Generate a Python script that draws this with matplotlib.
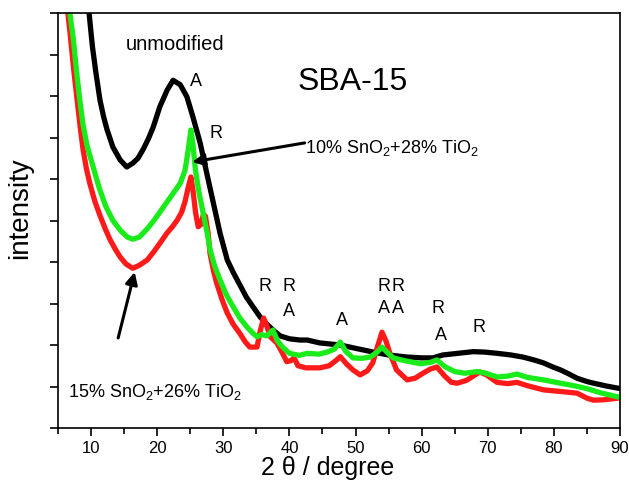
import matplotlib
matplotlib.use('Agg')
import matplotlib.pyplot as plt

plt.rcParams['font.family'] = ['Liberation Sans', 'DejaVu Sans']
plt.rcParams['mathtext.fontset'] = 'custom'
plt.rcParams['mathtext.rm'] = 'Liberation Sans'
plt.rcParams['mathtext.it'] = 'Liberation Sans:italic'

# unmodified SBA-15 (black)
x_black = [9.7, 10.2, 10.7, 11.35, 11.9, 12.4, 13.3, 14.4, 15.4, 16.3, 17.1, 17.9,
           18.7, 19.4, 20.4, 21.5, 22.4, 23.5, 24.5, 25.4, 26.5, 27.5, 28.5, 29.5,
           30.6, 31.5, 32.5, 33.5, 34.5, 35.6, 36.6, 37.6, 38.6, 40.0, 41.6, 42.7,
           44.6, 47.7, 50.0, 52.7, 55.0, 57.8, 60.0, 61.7, 63.2, 65.5, 67.8, 69.5,
           71.4, 73.5, 75.3, 77.0, 78.4, 80.0, 81.0, 82.3, 83.5, 85.0, 86.0, 88.0, 89.7]
y_black = [10.0, 9.2, 8.6, 7.9, 7.5, 7.2, 6.77, 6.46, 6.29, 6.38, 6.5, 6.72,
           6.98, 7.25, 7.74, 8.14, 8.38, 8.27, 7.98, 7.5, 6.87, 6.14, 5.42, 4.7,
           4.05, 3.75, 3.45, 3.15, 2.92, 2.67, 2.5, 2.35, 2.22, 2.15, 2.12, 2.12,
           2.05, 2.0, 1.92, 1.83, 1.76, 1.71, 1.69, 1.69, 1.76, 1.8, 1.84, 1.83,
           1.8, 1.76, 1.71, 1.64, 1.57, 1.46, 1.4, 1.3, 1.2, 1.12, 1.08, 1.01, 0.96]

# 10% SnO2 + 28% TiO2 (green)
x_green = [6.8, 7.3, 7.8, 8.3, 8.8, 9.4, 10.3, 11.2, 12.2, 13.3, 14.5, 15.5, 16.3,
           17.3, 18.5, 19.5, 20.4, 21.5, 22.4, 23.5, 24.2, 24.7, 25.1, 25.4, 25.8,
           26.3, 26.8, 27.5, 28.0, 28.7, 29.5, 30.5, 31.5, 32.5, 33.6, 34.5, 35.1,
           35.8, 36.6, 37.5, 38.2, 38.9, 40.0, 41.5, 42.7, 44.5, 45.7, 46.8, 47.7,
           48.5, 49.6, 51.0, 52.2, 53.2, 54.0, 54.8, 55.7, 57.5, 59.8, 61.3, 62.3,
           63.5, 65.0, 66.5, 68.4, 69.5, 71.4, 73.0, 74.4, 76.0, 78.4, 81.0, 83.0,
           85.0, 87.0, 89.7]
y_green = [10.0, 9.4, 8.6, 7.9, 7.3, 6.8, 6.3, 5.8, 5.35, 5.0, 4.75, 4.6, 4.55,
           4.6, 4.8, 5.0, 5.2, 5.45, 5.65, 5.9, 6.2, 6.7, 7.18, 6.85, 6.2,
           5.7, 5.3, 4.75, 4.3, 3.9, 3.57, 3.2, 2.92, 2.65, 2.43, 2.28, 2.2,
           2.25, 2.22, 2.36, 2.1, 1.96, 1.8, 1.75, 1.8, 1.78, 1.83, 1.9, 2.07,
           1.85, 1.69, 1.68, 1.71, 1.82, 1.95, 1.82, 1.69, 1.62, 1.55, 1.58, 1.64,
           1.48, 1.36, 1.32, 1.36, 1.33, 1.23, 1.25, 1.3, 1.22, 1.16, 1.08, 1.02,
           0.95, 0.85, 0.75]

# 15% SnO2 + 26% TiO2 (red)
x_red = [6.5, 6.9, 7.4, 7.9, 8.4, 8.8, 9.3, 9.8, 10.6, 11.4, 12.2, 12.9, 13.7,
         14.4, 15.3, 16.3, 17.3, 18.5, 19.5, 20.4, 21.5, 22.3, 23.0, 23.7, 24.2,
         24.7, 25.1, 25.4, 25.8, 26.2, 26.6, 27.0, 27.3, 27.7, 28.0, 28.5, 29.0,
         29.8, 30.6, 31.5, 32.5, 33.3, 34.0, 35.1, 35.6, 36.1, 36.6, 37.1, 38.1,
         38.8, 39.6, 40.2, 40.7, 41.3, 42.5, 44.6, 46.0, 47.0, 47.7, 48.6, 49.6,
         50.7, 51.8, 52.6, 53.3, 54.0, 54.6, 55.2, 56.2, 57.8, 59.0, 60.2, 61.3,
         62.3, 63.5, 64.5, 65.4, 66.8, 68.8, 69.8, 71.4, 73.0, 74.4, 76.0, 78.4,
         81.0, 83.5, 85.0, 86.0, 87.5, 89.7]
y_red = [10.0, 9.4, 8.6, 7.9, 7.2, 6.7, 6.25, 5.9, 5.45, 5.1, 4.78, 4.53, 4.3,
         4.12, 3.95, 3.85, 3.92, 4.05, 4.25, 4.45, 4.7, 4.85, 5.0, 5.2, 5.45,
         5.8, 6.05, 5.75, 5.2, 4.85, 4.9, 5.15, 5.1, 4.7, 4.2, 3.8, 3.49,
         3.1, 2.77, 2.5, 2.28, 2.08, 1.95, 1.95, 2.35, 2.65, 2.45, 2.2, 2.05,
         1.85, 1.6, 1.62, 1.69, 1.5, 1.45, 1.45, 1.5, 1.62, 1.72, 1.55, 1.4,
         1.28, 1.38, 1.57, 1.95, 2.31, 2.1, 1.8, 1.4, 1.16, 1.2, 1.32, 1.42,
         1.47, 1.25, 1.1, 1.08, 1.15, 1.35, 1.28, 1.1, 1.07, 1.1, 1.02, 0.92,
         0.88, 0.84, 0.72, 0.67, 0.68, 0.72]

# phase labels: (text, x, y)
peak_labels = [('A', 25.9, 8.34), ('R', 28.9, 7.1),
               ('R', 36.3, 3.40), ('R', 39.9, 3.40), ('A', 39.9, 2.80),
               ('A', 48.0, 2.60),
               ('R', 54.3, 3.40), ('R', 56.4, 3.40), ('A', 54.3, 2.89), ('A', 56.4, 2.89),
               ('R', 62.5, 2.89), ('A', 62.9, 2.24), ('R', 68.7, 2.41)]

fig = plt.figure(figsize=(6.29, 4.80), dpi=100)
ax = fig.add_axes([0.0922, 0.1083, 0.8935, 0.8646])

ax.plot(x_black, y_black, color='black', lw=3.8, solid_joinstyle='round')
ax.plot(x_red, y_red, color='#ff1a1a', lw=3.8, solid_joinstyle='round')
ax.plot(x_green, y_green, color='#1aeb1a', lw=3.8, solid_joinstyle='round')

ax.set_xlim(5, 90)
ax.set_ylim(0, 10)
ax.set_xticks(range(10, 91, 10))
ax.set_xticks(range(5, 90, 10), minor=True)
ax.set_yticks(range(0, 11))
ax.set_yticklabels([])
ax.tick_params(axis='both', which='major', direction='out', length=6, width=1.2,
               labelsize=12, top=False, right=False)
ax.tick_params(axis='x', which='minor', direction='out', length=4, width=1.2)
for s in ax.spines.values():
    s.set_linewidth(1.2)

ax.set_xlabel('2 \u03b8 / degree', fontsize=18)
ax.xaxis.set_label_coords(0.48, -0.068)
ax.set_ylabel('intensity', fontsize=20)
ax.yaxis.set_label_coords(-0.045, 0.53)

ax.text(22.7, 9.23, 'unmodified', fontsize=14.5, ha='center', va='center')
ax.text(41.2, 8.34, 'SBA-15', fontsize=23, ha='left', va='center')
for t, px, py in peak_labels:
    ax.text(px, py, t, fontsize=13, ha='center', va='center')

ax.text(42.4, 6.75, '10% SnO$_2$+28% TiO$_2$', fontsize=13, ha='left', va='center')
ax.annotate('', xy=(25.3, 6.41), xytext=(42.3, 6.87),
            arrowprops=dict(arrowstyle='-|>', color='black', lw=2.2,
                            mutation_scale=18, shrinkA=0, shrinkB=0))
ax.text(6.5, 0.87, '15% SnO$_2$+26% TiO$_2$', fontsize=13, ha='left', va='center')
ax.annotate('', xy=(16.6, 3.76), xytext=(14.1, 2.17),
            arrowprops=dict(arrowstyle='-|>', color='black', lw=2.2,
                            mutation_scale=18, shrinkA=0, shrinkB=0))

fig.savefig('out.png', dpi=100)
